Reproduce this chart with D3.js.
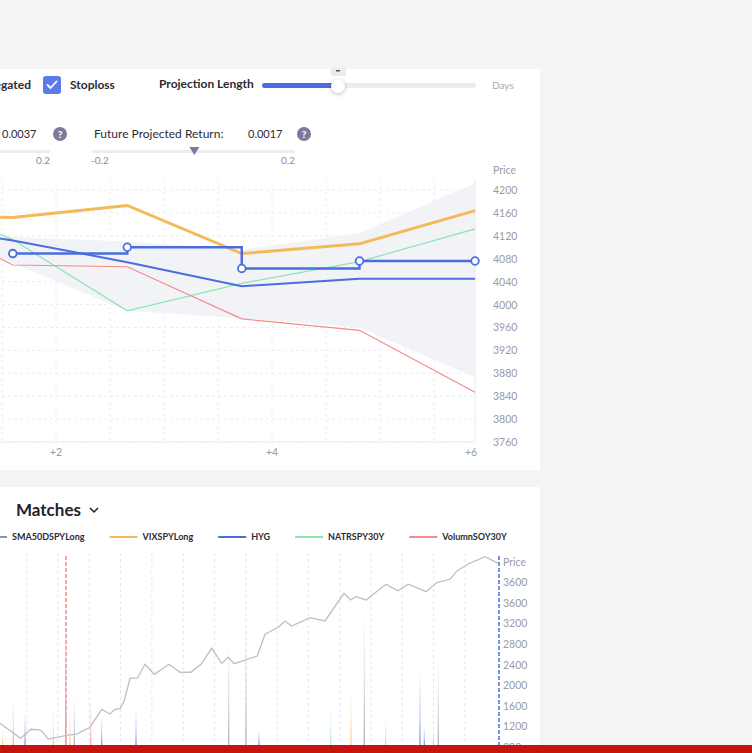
<!DOCTYPE html>
<html>
<head>
<meta charset="utf-8">
<script src="https://cdn.jsdelivr.net/npm/d3@7"></script>
<style>
body{margin:0;background:#f4f4f5;overflow:hidden;}
svg text{font-family:Lato,"Open Sans",sans-serif;}
</style>
</head>
<body>
<svg id="board" width="752" height="753"></svg>
<script>
// ---- projection chart data (days ahead, price) ----
var days=[0.55,1.6,2.66,3.72,4.81,5.88]
var vixSpyLong=[4154,4152,4173,4089,4106,4164]
var hyg=[4140,4112,4074,4032,4045,4045]
var natrSpy30Y=[4200,4113,3989,4037,4075,4132]
var volumnSoy30Y=[4171,4069,4066,3975,3955,3847]
var projection=[4089,4100,4063,4076,4076]   // starts at days[1]
var bandUpper=[4165,4118,4110,4096,4125,4212]
var bandLower=[4148,4072,3989,3976,3960,3873]
var priceTicks=[4200,4160,4120,4080,4040,4000,3960,3920,3880,3840,3800,3760]
var dayTicks=[2,4,6]
var dayTickLabels=["+2","+4","+6"]
var dayGrid=[1.5,2,2.5,3,3.5,4,4.5,5,5.5]

// ---- matches chart data ----
var histT=[-0.3,0.147,0.808,1.128,1.447,1.69,2.278,2.597,3.022,3.396,3.661,3.821,3.981,4.109,4.3,4.546,4.78,5.077,5.546,5.898,6.24,6.569,6.911,7.23,7.441,7.633,8.367,8.613,9.038,9.252,9.466,10.051,10.53,11.137,11.351,11.521,11.84,12.479,12.853,13.192,13.757,14.118,14.524,14.757,15.109,15.642,16.067]
var histPrice=[1330,1260,969,1144,1130,955,1027,1052,1183,1532,1441,1532,1544,1680,2134,2140,2406,2212,2406,2251,2251,2406,2717,2425,2542,2418,2567,2989,3125,3247,3150,3311,3247,3785,3655,3719,3655,3960,3835,3960,3816,3998,4057,4224,4354,4496,4367]
var spikeT=[0.233,0.572,0.946,1.85,2.246,2.383,2.521,3.045,3.396,4.492,7.454,8.006,8.422,10.712,11.361,11.786,12.47,13.565,13.703,13.99,14.15]
var spikeValue=[1130,1777,1460,1583,3791,1518,1777,1777,1388,1552,2878,3169,1130,1552,1874,3430,1388,2262,1194,1130,2425]
var spikeSeries=["VIXSPYLong","VolumnSOY30Y","HYG","VIXSPYLong","HYG","VIXSPYLong","SMA50DSPYLong","VolumnSOY30Y","HYG","HYG","SMA50DSPYLong","SMA50DSPYLong","HYG","NATRSPY30Y","VIXSPYLong","SMA50DSPYLong","NATRSPY30Y","HYG","HYG","NATRSPY30Y","SMA50DSPYLong"]
var legendNames=["SMA50DSPYLong","VIXSPYLong","HYG","NATRSPY30Y","VolumnSOY30Y"]
var legendColors=["#8f92a6","#f5b955","#4a6ee0","#8ee3b3","#f48b8b"]
var matchTicks=[4000,3600,3200,2800,2400,2000,1600,1200,800]
var matchTickLabels=["3600","3600","3200","2800","2400","2000","1600","1200","800"]
var entryT=2.256
var nowT=16.09

var color=d3.scaleOrdinal().domain(legendNames).range(legendColors)
var svg=d3.select('#board')

// cards
svg.append("rect").attr("x",-10).attr("y",69).attr("width",550).attr("height",401).attr("fill","white")
svg.append("rect").attr("x",-10).attr("y",487).attr("width",550).attr("height",270).attr("fill","white")

// ---- controls row ----
svg.append("text").attr("x",31).attr("y",89).attr("text-anchor","end")
	.attr("font-size",12).attr("font-weight",700).attr("fill","#2b2b33").text("Negated")
svg.append("rect").attr("x",43).attr("y",76).attr("width",18).attr("height",18).attr("rx",3).attr("fill","#5b7be8")
svg.append("path").attr("d","M47.5,85 L50.5,88 L56.5,81.5").attr("fill","none")
	.attr("stroke","white").attr("stroke-width",1.8).attr("stroke-linecap","round").attr("stroke-linejoin","round")
svg.append("text").attr("x",70).attr("y",89).attr("font-size",12).attr("font-weight",700).attr("fill","#2b2b33").text("Stoploss")
svg.append("text").attr("x",159).attr("y",88).attr("font-size",12).attr("font-weight",700).attr("fill","#2b2b33").text("Projection Length")

var lenScale=d3.scaleLinear().domain([1,30]).range([262,476])
svg.append("rect").attr("x",262).attr("y",83).attr("width",214).attr("height",5).attr("rx",2.5).attr("fill","#ececf1")
svg.append("rect").attr("x",262).attr("y",83).attr("width",lenScale(11.3)-262).attr("height",5).attr("rx",2.5).attr("fill","#4a6ee0")
svg.append("rect").attr("x",lenScale(11.3)-7).attr("y",68).attr("width",15).attr("height",8).attr("fill","#ebebef")
svg.append("rect").attr("x",lenScale(11.3)-2).attr("y",70).attr("width",4).attr("height",1.5).attr("fill","#555")
svg.append("circle").attr("cx",lenScale(11.3)).attr("cy",86).attr("r",7).attr("fill","white")
	.style("filter","drop-shadow(0px 1px 2px rgba(0,0,0,0.25))")
svg.append("text").attr("x",492).attr("y",89).attr("font-size",10).attr("fill","#a8a9b3").text("Days")

// ---- return row ----
function helpIcon(cx){
	svg.append("circle").attr("cx",cx).attr("cy",134).attr("r",7).attr("fill","#7b7b99")
	svg.append("text").attr("x",cx).attr("y",138).attr("text-anchor","middle").attr("font-size",10)
		.attr("font-weight",900).attr("fill","white").text("?")
}
svg.append("text").attr("x",2).attr("y",138).attr("font-size",11).attr("fill","#2b2b33").text("0.0037")
helpIcon(60)
svg.append("text").attr("x",94).attr("y",138).attr("font-size",12).attr("fill","#2b2b33").text("Future Projected Return:")
svg.append("text").attr("x",248).attr("y",138).attr("font-size",11).attr("fill","#2b2b33").text("0.0017")
helpIcon(304)

var retScale=d3.scaleLinear().domain([-0.2,0.2]).range([92,295])
svg.append("rect").attr("x",-10).attr("y",150).attr("width",60).attr("height",3).attr("fill","#ececf1")
svg.append("text").attr("x",50).attr("y",164).attr("text-anchor","end").attr("font-size",10).attr("fill","#8d8e99").text("0.2")
svg.append("rect").attr("x",92).attr("y",150).attr("width",203).attr("height",3).attr("fill","#ececf1")
svg.append("path").attr("d","M"+(retScale(0.0017)-5)+",147 L"+(retScale(0.0017)+5)+",147 L"+retScale(0.0017)+",155 Z").attr("fill","#7b7b99")
svg.append("text").attr("x",91).attr("y",164).attr("font-size",10).attr("fill","#8d8e99").text("-0.2")
svg.append("text").attr("x",295).attr("y",164).attr("text-anchor","end").attr("font-size",10).attr("fill","#8d8e99").text("0.2")

// ---- projection chart ----
var xT=d3.scaleLinear().domain([2,4]).range([56,272])
var yT=d3.scaleLinear().domain([3760,4200]).range([442,190])
var right=xT(days[days.length-1])
var g=svg.append("g")

g.selectAll(".hgrid").data(priceTicks).enter().append("line")
	.attr("x1",-10).attr("x2",right).attr("y1",d=>yT(d)).attr("y2",d=>yT(d))
	.attr("stroke","#ececf1").attr("stroke-dasharray","3,3")
g.selectAll(".vgrid").data(dayGrid).enter().append("line")
	.attr("x1",d=>xT(d)).attr("x2",d=>xT(d)).attr("y1",180).attr("y2",442)
	.attr("stroke","#ececf1").attr("stroke-dasharray","3,3")

var band=d3.area().x((d,i)=>xT(days[i])).y0((d,i)=>yT(bandLower[i])).y1(d=>yT(d))
g.append("path").datum(bandUpper).attr("d",band).attr("fill","#f2f3f7")

g.append("line").attr("x1",right).attr("x2",right).attr("y1",180).attr("y2",442).attr("stroke","#e8eaf0")
g.append("line").attr("x1",-10).attr("x2",right).attr("y1",442).attr("y2",442).attr("stroke","#e8eaf0")

var line=d3.line().x((d,i)=>xT(days[i])).y(d=>yT(d))
g.append("path").datum(natrSpy30Y).attr("d",line).attr("fill","none").attr("stroke",color("NATRSPY30Y")).attr("stroke-width",1.2)
g.append("path").datum(volumnSoy30Y).attr("d",line).attr("fill","none").attr("stroke",color("VolumnSOY30Y")).attr("stroke-width",1.2)
g.append("path").datum(hyg).attr("d",line).attr("fill","none").attr("stroke",color("HYG")).attr("stroke-width",2)
g.append("path").datum(vixSpyLong).attr("d",line).attr("fill","none").attr("stroke",color("VIXSPYLong")).attr("stroke-width",3)

var step=d3.line().curve(d3.curveStepAfter).x((d,i)=>xT(days[i+1])).y(d=>yT(d))
g.append("path").datum(projection).attr("d",step).attr("fill","none").attr("stroke","#4a6ee0").attr("stroke-width",2.5)
g.selectAll(".pt").data(projection).enter().append("circle")
	.attr("cx",(d,i)=>xT(days[i+1])).attr("cy",d=>yT(d)).attr("r",3.8)
	.attr("fill","white").attr("stroke","#4a6ee0").attr("stroke-width",1.8)

g.selectAll(".ytick").data(priceTicks).enter().append("text")
	.attr("x",493).attr("y",d=>yT(d)+4).attr("font-size",10.5).attr("fill","#9a9ba6").text(d=>d)
g.append("text").attr("x",493).attr("y",174).attr("font-size",10.5).attr("fill","#9a9ba6").text("Price")
g.selectAll(".xtick").data(dayTicks).enter().append("text")
	.attr("x",d=>Math.min(xT(d),right-4)).attr("y",456).attr("text-anchor","middle")
	.attr("font-size",10.5).attr("fill","#9a9ba6").text((d,i)=>dayTickLabels[i])

// ---- matches ----
svg.append("text").attr("x",16).attr("y",516).attr("font-size",17).attr("font-weight",700).attr("fill","#22222a").text("Matches")
svg.append("path").attr("d","M90,508 L94,512 L98,508").attr("fill","none").attr("stroke","#22222a").attr("stroke-width",1.5)

var lx=-21
legendNames.forEach(function(name,i){
	svg.append("line").attr("x1",lx).attr("x2",lx+28).attr("y1",537).attr("y2",537)
		.attr("stroke",legendColors[i]).attr("stroke-width",2)
	var t=svg.append("text").attr("x",lx+33).attr("y",540).attr("font-size",9).attr("font-weight",700)
		.attr("fill","#2b2b33").text(name)
	lx=lx+33+t.node().getComputedTextLength()+25
})

var xB=d3.scaleLinear().domain([0,16]).range([-4.6,496.2])
var yB=d3.scaleLinear().domain([800,4000]).range([747,582.2])
var mg=svg.append("g")

mg.selectAll(".mgrid").data(d3.range(1,16)).enter().append("line")
	.attr("x1",d=>xB(d)).attr("x2",d=>xB(d)).attr("y1",553).attr("y2",745)
	.attr("stroke","#e6e6ec").attr("stroke-dasharray","3,3")

var defs=svg.append("defs")
legendNames.forEach(function(name,i){
	var gr=defs.append("linearGradient").attr("id","fade"+i).attr("x1",0).attr("y1",0).attr("x2",0).attr("y2",1)
	gr.append("stop").attr("offset","0%").attr("stop-color",legendColors[i]).attr("stop-opacity",0)
	gr.append("stop").attr("offset","60%").attr("stop-color",legendColors[i]).attr("stop-opacity",0.35)
	gr.append("stop").attr("offset","100%").attr("stop-color",legendColors[i]).attr("stop-opacity",0.8)
})
mg.selectAll(".spike").data(spikeT).enter().append("rect")
	.attr("x",d=>xB(d)-0.6).attr("width",1.2)
	.attr("y",(d,i)=>yB(spikeValue[i])).attr("height",(d,i)=>745-yB(spikeValue[i]))
	.attr("fill",(d,i)=>"url(#fade"+legendNames.indexOf(spikeSeries[i])+")")

var hline=d3.line().x(d=>xB(d)).y((d,i)=>yB(histPrice[i]))
mg.append("path").datum(histT).attr("d",hline).attr("fill","none").attr("stroke","#bdbec8").attr("stroke-width",1.3)

mg.append("line").attr("x1",xB(entryT)).attr("x2",xB(entryT)).attr("y1",556).attr("y2",745)
	.attr("stroke","#f7a8a8").attr("stroke-width",2).attr("stroke-dasharray","4,2")
mg.append("line").attr("x1",xB(nowT)).attr("x2",xB(nowT)).attr("y1",556).attr("y2",745)
	.attr("stroke","#4a6ee0").attr("stroke-width",1.5).attr("stroke-dasharray","4,2")

mg.selectAll(".mtick").data(matchTicks).enter().append("text")
	.attr("x",503).attr("y",d=>yB(d)+4).attr("font-size",10.5).attr("fill","#9a9ba6")
	.text((d,i)=>matchTickLabels[i])
mg.append("text").attr("x",503).attr("y",566).attr("font-size",10.5).attr("fill","#9a9ba6").text("Price")

// page bottom bar
svg.append("rect").attr("x",0).attr("y",745).attr("width",752).attr("height",8).attr("fill","#c8140f")
</script>
</body>
</html>
